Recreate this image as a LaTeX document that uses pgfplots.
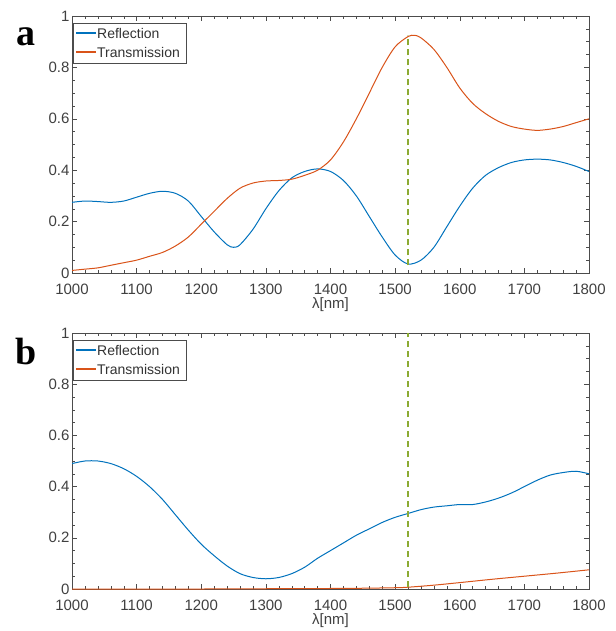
\documentclass[border=0pt]{standalone}
\usepackage{pgfplots}
\pgfplotsset{compat=1.18}
\usepackage{fontspec}
\setmainfont{Liberation Sans}
\newfontfamily\serifb{Liberation Serif}
\definecolor{mblue}{rgb}{0,0.447,0.741}
\definecolor{morange}{rgb}{0.85,0.325,0.098}
\definecolor{mgreen}{rgb}{0.55,0.67,0.2}
\pgfplotsset{
  myax/.style={
    scale only axis, width=517pt,
    xmin=1000, xmax=1800, ymin=0, ymax=1,
    xtick={1000,1100,...,1800}, ytick={0,0.2,...,1},
    yticklabels={0,0.2,0.4,0.6,0.8,1},
    minor x tick num=4, minor y tick num=3,
    tick align=inside,
    major tick length=5pt, minor tick length=3pt,
    every tick/.style={black!70, thin},
    axis line style={black!70},
    tick label style={font=\fontsize{15}{15}\selectfont, text=black!75},
    xticklabel style={yshift=-7pt},
    yticklabel style={xshift=1pt},
    /pgf/number format/assume math mode=true,
    /pgf/number format/1000 sep={},
    xlabel={λ[nm]},
    xlabel style={font=\fontsize{15}{15}\selectfont, text=black!75, yshift=3pt},
  }
}
\newcommand{\mylegend}[1]{%
  \draw[black!70, fill=white, line width=0.6pt] (73pt,#1) rectangle (186pt,#1-40pt);
  \draw[mblue, line width=1.2pt] (76pt,#1-10pt) -- (96pt,#1-10pt);
  \draw[morange, line width=1.2pt] (76pt,#1-29pt) -- (96pt,#1-29pt);
  \node[anchor=west, inner sep=0pt, font=\fontsize{14}{14}\selectfont, text=black!80] at (97pt,#1-10pt) {Reflection};
  \node[anchor=west, inner sep=0pt, font=\fontsize{14}{14}\selectfont, text=black!80] at (97pt,#1-29pt) {Transmission};
}
\begin{document}
\begin{tikzpicture}
\path[use as bounding box] (0,0) rectangle (615pt,-631pt);
\begin{axis}[myax, height=257pt, at={(72pt,-273pt)}, anchor=south west]
\addplot[color=mblue, line width=1pt, smooth] coordinates {
(1000,0.275)(1020,0.28)(1040,0.278)(1060,0.275)(1080,0.28)(1100,0.295)(1120,0.31)(1140,0.318)(1160,0.31)(1180,0.28)(1200,0.22)(1220,0.16)(1240,0.11)(1250,0.10)(1260,0.11)(1280,0.17)(1300,0.25)(1320,0.32)(1340,0.37)(1360,0.395)(1380,0.405)(1400,0.395)(1420,0.36)(1440,0.30)(1460,0.22)(1480,0.14)(1500,0.07)(1520,0.035)(1540,0.05)(1560,0.1)(1580,0.18)(1600,0.26)(1620,0.33)(1640,0.38)(1660,0.41)(1680,0.43)(1700,0.44)(1720,0.443)(1740,0.44)(1760,0.43)(1780,0.415)(1800,0.395)};
\addplot[color=morange, line width=1pt, smooth] coordinates {
(1000,0.01)(1020,0.015)(1040,0.02)(1060,0.03)(1080,0.04)(1100,0.05)(1120,0.065)(1140,0.08)(1160,0.105)(1180,0.14)(1200,0.19)(1220,0.24)(1240,0.29)(1260,0.33)(1280,0.35)(1300,0.358)(1320,0.36)(1340,0.365)(1360,0.38)(1380,0.40)(1400,0.44)(1420,0.51)(1440,0.60)(1460,0.70)(1480,0.80)(1500,0.88)(1520,0.92)(1530,0.925)(1540,0.915)(1560,0.87)(1580,0.80)(1600,0.72)(1620,0.66)(1640,0.62)(1660,0.59)(1680,0.57)(1700,0.56)(1720,0.555)(1740,0.56)(1760,0.57)(1780,0.585)(1800,0.60)};
\addplot[color=mgreen, line width=1.2pt, dash pattern=on 6pt off 4pt] coordinates {(1520,0.03)(1520,0.925)};
\end{axis}
\mylegend{-23pt}
\node[font=\serifb\bfseries\fontsize{38}{38}\selectfont, inner sep=0pt] at (26pt,-37pt) {a};
\begin{axis}[myax, height=256pt, at={(72pt,-589pt)}, anchor=south west]
\addplot[color=mblue, line width=1pt, smooth] coordinates {
(1000,0.49)(1020,0.50)(1040,0.50)(1060,0.49)(1080,0.47)(1100,0.44)(1120,0.40)(1140,0.35)(1160,0.29)(1180,0.23)(1200,0.175)(1220,0.13)(1240,0.09)(1260,0.06)(1280,0.045)(1300,0.04)(1320,0.045)(1340,0.06)(1360,0.085)(1380,0.12)(1400,0.15)(1420,0.18)(1440,0.21)(1460,0.235)(1480,0.26)(1500,0.28)(1520,0.295)(1540,0.31)(1560,0.32)(1580,0.325)(1600,0.33)(1620,0.33)(1640,0.34)(1660,0.355)(1680,0.375)(1700,0.40)(1720,0.425)(1740,0.445)(1760,0.455)(1780,0.46)(1800,0.45)};
\addplot[color=morange, line width=1pt, smooth] coordinates {
(1000,0)(1100,0)(1200,0)(1300,0.001)(1400,0.002)(1450,0.003)(1500,0.005)(1520,0.007)(1560,0.015)(1600,0.025)(1650,0.038)(1700,0.05)(1750,0.062)(1800,0.075)};
\addplot[color=mgreen, line width=1.2pt, dash pattern=on 6pt off 4pt] coordinates {(1520,0.007)(1520,1)};
\end{axis}
\mylegend{-340pt}
\node[font=\serifb\bfseries\fontsize{38}{38}\selectfont, inner sep=0pt] at (26pt,-351pt) {b};
\end{tikzpicture}
\end{document}
